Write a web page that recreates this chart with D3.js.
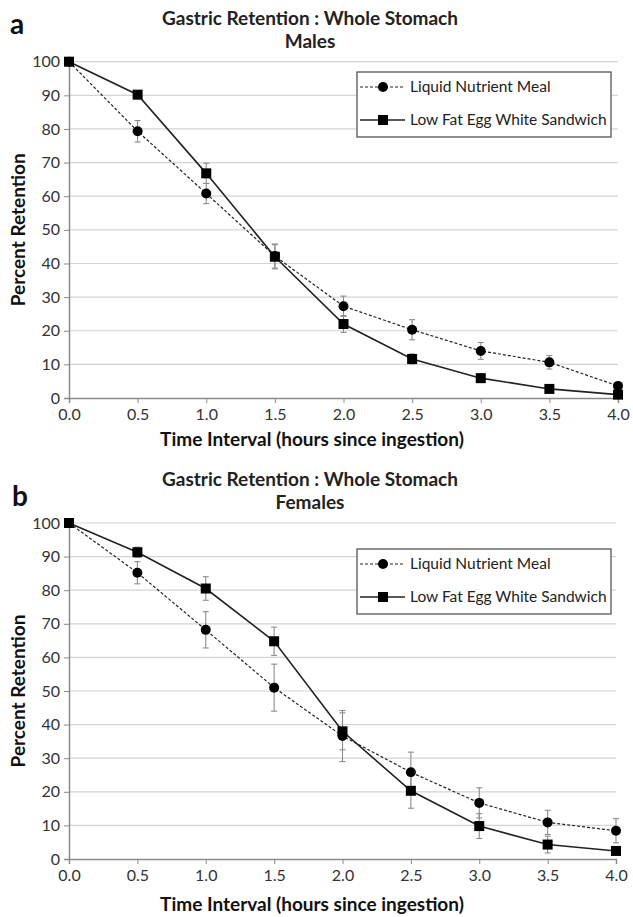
<!DOCTYPE html>
<html>
<head>
<meta charset="utf-8">
<script src="https://cdn.jsdelivr.net/npm/d3@7"></script>
<style>
  html, body { margin: 0; padding: 0; background: #fff; }
  svg { display: block; font-family: Lato, "Open Sans", sans-serif; }
</style>
</head>
<body>
<svg id="chart" width="633" height="917"></svg>
<script>
// ---- DATA ----
const timeHours = [0, 0.5, 1.0, 1.5, 2.0, 2.5, 3.0, 3.5, 4.0];
const xTickLabels = ["0.0", "0.5", "1.0", "1.5", "2.0", "2.5", "3.0", "3.5", "4.0"];
const yTicks = [0, 10, 20, 30, 40, 50, 60, 70, 80, 90, 100];
const seriesNames = ["Liquid Nutrient Meal", "Low Fat Egg White Sandwich"];

const malesLiquid    = [100, 79.3, 60.8, 42.2, 27.3, 20.3, 14.0, 10.6, 3.6];
const malesLiquidErr = [0, 3.2, 3.0, 3.6, 3.0, 3.0, 2.5, 2.0, 0.8];
const malesEgg       = [100, 90.2, 66.8, 42.0, 22.0, 11.6, 5.9, 2.7, 1.0];
const malesEggErr    = [0, 1.0, 3.0, 3.6, 2.5, 1.5, 1.2, 0.5, 0.3];

const femalesLiquid    = [100, 85.2, 68.2, 51.0, 36.6, 25.8, 16.7, 10.9, 8.4];
const femalesLiquidErr = [0, 3.3, 5.4, 7.0, 7.6, 6.0, 4.5, 3.6, 3.6];
const femalesEgg       = [100, 91.3, 80.5, 64.8, 38.0, 20.3, 9.8, 4.3, 2.4];
const femalesEggErr    = [0, 1.5, 3.5, 4.2, 5.5, 5.2, 3.7, 2.5, 0.5];

const svg = d3.select("#chart");

function drawPanel(opts) {
  const g = svg.append("g");
  const x = d3.scaleLinear().domain([0, 4]).range([opts.x0, opts.x1]);
  const y = d3.scaleLinear().domain([0, 100]).range([opts.y0, opts.y1]);

  // panel letter
  g.append("text").attr("x", opts.letterX).attr("y", opts.letterY)
    .attr("font-size", 28).attr("font-weight", "bold").attr("fill", "#111")
    .text(opts.letter);

  // titles
  g.append("text").attr("x", 310).attr("y", opts.titleY)
    .attr("text-anchor", "middle").attr("font-size", 19).attr("font-weight", "bold").attr("fill", "#222")
    .text("Gastric Retention : Whole Stomach");
  g.append("text").attr("x", 310).attr("y", opts.titleY + 23)
    .attr("text-anchor", "middle").attr("font-size", 19).attr("font-weight", "bold").attr("fill", "#222")
    .text(opts.subtitle);

  // gridlines
  g.append("g").selectAll("line").data(yTicks.filter(t => t > 0)).join("line")
    .attr("x1", x(0)).attr("x2", x(4))
    .attr("y1", d => y(d)).attr("y2", d => y(d))
    .attr("stroke", "#d4d4d4").attr("stroke-width", 1.2);

  // y axis
  const yAxis = g.append("g").attr("transform", `translate(${x(0)},0)`)
    .call(d3.axisLeft(y).tickValues(yTicks).tickSize(5).tickPadding(4).tickFormat(d3.format("d")));
  yAxis.select(".domain").attr("stroke", "#8a8a8a").attr("stroke-width", 1.5);
  yAxis.selectAll(".tick line").attr("stroke", "#8a8a8a");
  yAxis.selectAll(".tick text").attr("font-size", 16).attr("fill", "#333")
    .attr("font-family", "Lato, 'Open Sans', sans-serif");

  // x axis
  const xAxis = g.append("g").attr("transform", `translate(0,${y(0)})`)
    .call(d3.axisBottom(x).tickValues(timeHours).tickSize(5).tickPadding(6)
      .tickFormat((d, i) => xTickLabels[i]));
  xAxis.select(".domain").attr("stroke", "#8a8a8a").attr("stroke-width", 1.5);
  xAxis.selectAll(".tick line").attr("stroke", "#8a8a8a");
  xAxis.selectAll(".tick text").attr("font-size", 16).attr("fill", "#333")
    .attr("font-family", "Lato, 'Open Sans', sans-serif");

  // axis titles
  g.append("text").attr("x", 312).attr("y", opts.xTitleY)
    .attr("text-anchor", "middle").attr("font-size", 19).attr("font-weight", "bold").attr("fill", "#111")
    .text("Time Interval (hours since ingestion)");
  g.append("text")
    .attr("transform", `translate(25,${(y(0) + y(100)) / 2}) rotate(-90)`)
    .attr("text-anchor", "middle").attr("font-size", 19).attr("font-weight", "bold").attr("fill", "#111")
    .text("Percent Retention");

  const liquid = timeHours.map((t, i) => ({t, v: opts.liquid[i], e: opts.liquidErr[i]}));
  const egg = timeHours.map((t, i) => ({t, v: opts.egg[i], e: opts.eggErr[i]}));

  // error bars
  function errorBars(data) {
    const eg = g.append("g").attr("stroke", "#8c8c8c").attr("stroke-width", 1.1);
    data.filter(d => d.e > 0).forEach(d => {
      eg.append("line").attr("x1", x(d.t)).attr("x2", x(d.t)).attr("y1", y(d.v - d.e)).attr("y2", y(d.v + d.e));
      eg.append("line").attr("x1", x(d.t) - 3).attr("x2", x(d.t) + 3).attr("y1", y(d.v - d.e)).attr("y2", y(d.v - d.e));
      eg.append("line").attr("x1", x(d.t) - 3).attr("x2", x(d.t) + 3).attr("y1", y(d.v + d.e)).attr("y2", y(d.v + d.e));
    });
  }
  errorBars(liquid);
  errorBars(egg);

  const line = d3.line().x(d => x(d.t)).y(d => y(d.v));
  g.append("path").datum(liquid).attr("d", line).attr("fill", "none")
    .attr("stroke", "#222").attr("stroke-width", 1.2).attr("stroke-dasharray", "3,2");
  g.append("path").datum(egg).attr("d", line).attr("fill", "none")
    .attr("stroke", "#222").attr("stroke-width", 1.6);

  g.append("g").selectAll("circle").data(liquid).join("circle")
    .attr("cx", d => x(d.t)).attr("cy", d => y(d.v)).attr("r", 5).attr("fill", "#000");
  g.append("g").selectAll("rect").data(egg).join("rect")
    .attr("x", d => x(d.t) - 5).attr("y", d => y(d.v) - 5).attr("width", 10).attr("height", 10).attr("fill", "#000");

  // legend
  const lg = g.append("g").attr("transform", `translate(${opts.legX},${opts.legY})`);
  lg.append("rect").attr("x", 0).attr("y", 0).attr("width", 254).attr("height", 65)
    .attr("fill", "#fff").attr("stroke", "#555").attr("stroke-width", 1.3);
  lg.append("line").attr("x1", 3).attr("x2", 48).attr("y1", 15).attr("y2", 15)
    .attr("stroke", "#222").attr("stroke-width", 1.2).attr("stroke-dasharray", "3,2");
  lg.append("circle").attr("cx", 26).attr("cy", 15).attr("r", 5).attr("fill", "#000");
  lg.append("line").attr("x1", 3).attr("x2", 48).attr("y1", 48).attr("y2", 48)
    .attr("stroke", "#222").attr("stroke-width", 1.6);
  lg.append("rect").attr("x", 21).attr("y", 43).attr("width", 10).attr("height", 10).attr("fill", "#000");
  lg.append("text").attr("x", 53).attr("y", 20).attr("font-size", 15.5).attr("fill", "#222").text(seriesNames[0]);
  lg.append("text").attr("x", 53).attr("y", 53).attr("font-size", 15.5).attr("fill", "#222").text(seriesNames[1]);
}

drawPanel({
  letter: "a", letterX: 10, letterY: 34, subtitle: "Males", titleY: 25,
  x0: 69, x1: 618, y0: 398, y1: 61.7, xTitleY: 446,
  liquid: malesLiquid, liquidErr: malesLiquidErr, egg: malesEgg, eggErr: malesEggErr,
  legX: 357, legY: 72
});
drawPanel({
  letter: "b", letterX: 12, letterY: 506, subtitle: "Females", titleY: 486,
  x0: 69, x1: 616, y0: 859, y1: 523, xTitleY: 911,
  liquid: femalesLiquid, liquidErr: femalesLiquidErr, egg: femalesEgg, eggErr: femalesEggErr,
  legX: 357, legY: 549
});
</script>
</body>
</html>
